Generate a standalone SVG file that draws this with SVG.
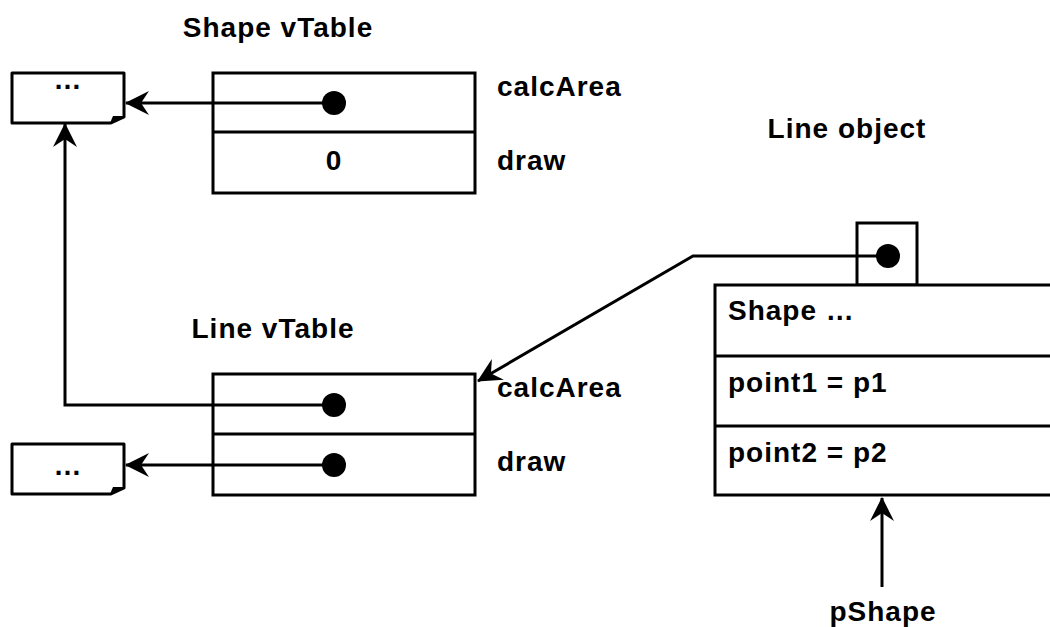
<svg xmlns="http://www.w3.org/2000/svg" width="1050" height="627" viewBox="0 0 1050 627">
<style>
.box{fill:#fff;stroke:#000;stroke-width:3}
.ln{fill:none;stroke:#000;stroke-width:3}
.t{font-family:"Liberation Sans",Arial,sans-serif;font-weight:bold;font-size:28px;letter-spacing:1px;fill:#000}
.m{text-anchor:middle}
.dot{fill:#000}
</style>
<defs>
<marker id="arr" markerUnits="userSpaceOnUse" viewBox="-25 -13 27 26" markerWidth="27" markerHeight="26" refX="0" refY="0" orient="auto">
<path d="M1,0 L-23,-12 L-15,0 L-23,12 Z" fill="#000"/>
</marker>
</defs>
<rect width="1050" height="627" fill="#fff"/>

<g id="shape-vtable">
<rect class="box" x="213" y="73" width="262" height="120"/>
<line class="ln" x1="213" y1="132" x2="475" y2="132"/>
<text class="t m" x="334" y="170">0</text>
<text class="t m" x="278" y="37">Shape vTable</text>
<text class="t" x="497" y="96">calcArea</text>
<text class="t" x="497" y="170">draw</text>
</g>

<g id="line-vtable">
<rect class="box" x="213" y="374" width="262" height="121"/>
<line class="ln" x1="213" y1="434" x2="475" y2="434"/>
<text class="t m" x="273" y="338">Line vTable</text>
<text class="t" x="497" y="397">calcArea</text>
<text class="t" x="497" y="471">draw</text>
</g>

<g id="doc-top">
<path class="ln" d="M12,73 H124 V117 L111,123 H12 Z" stroke-linejoin="round"/>
<path d="M110,123 L113,116 L124,116 Z" fill="#000"/>
<text class="t m" x="68" y="89">…</text>
</g>

<g id="doc-bottom">
<path class="ln" d="M12,444 H124 V488 L111,494 H12 Z" stroke-linejoin="round"/>
<path d="M110,494 L113,487 L124,487 Z" fill="#000"/>
<text class="t m" x="68" y="475">…</text>
</g>

<g id="line-object">
<text class="t m" x="847" y="138">Line object</text>
<rect class="box" x="857" y="223" width="60" height="62"/>
<rect class="box" x="715" y="285" width="345" height="210"/>
<line class="ln" x1="715" y1="356" x2="1060" y2="356"/>
<line class="ln" x1="715" y1="426" x2="1060" y2="426"/>
<text class="t" x="728" y="320">Shape …</text>
<text class="t" x="728" y="392">point1 = p1</text>
<text class="t" x="728" y="462">point2 = p2</text>
</g>

<g id="pshape">
<text class="t m" x="883" y="621">pShape</text>
</g>

<g id="connectors">
<path class="ln" d="M334,103 H126" marker-end="url(#arr)"/>
<path class="ln" d="M334,405 H65 V124" marker-end="url(#arr)"/>
<path class="ln" d="M334,465 H126" marker-end="url(#arr)"/>
<path class="ln" d="M888,256 H693 L478,381" marker-end="url(#arr)"/>
<path class="ln" d="M882,587 V498" marker-end="url(#arr)"/>
<circle class="dot" cx="334" cy="103" r="12"/>
<circle class="dot" cx="334" cy="405" r="12"/>
<circle class="dot" cx="334" cy="465" r="12"/>
<circle class="dot" cx="888" cy="256" r="12"/>
</g>
</svg>
